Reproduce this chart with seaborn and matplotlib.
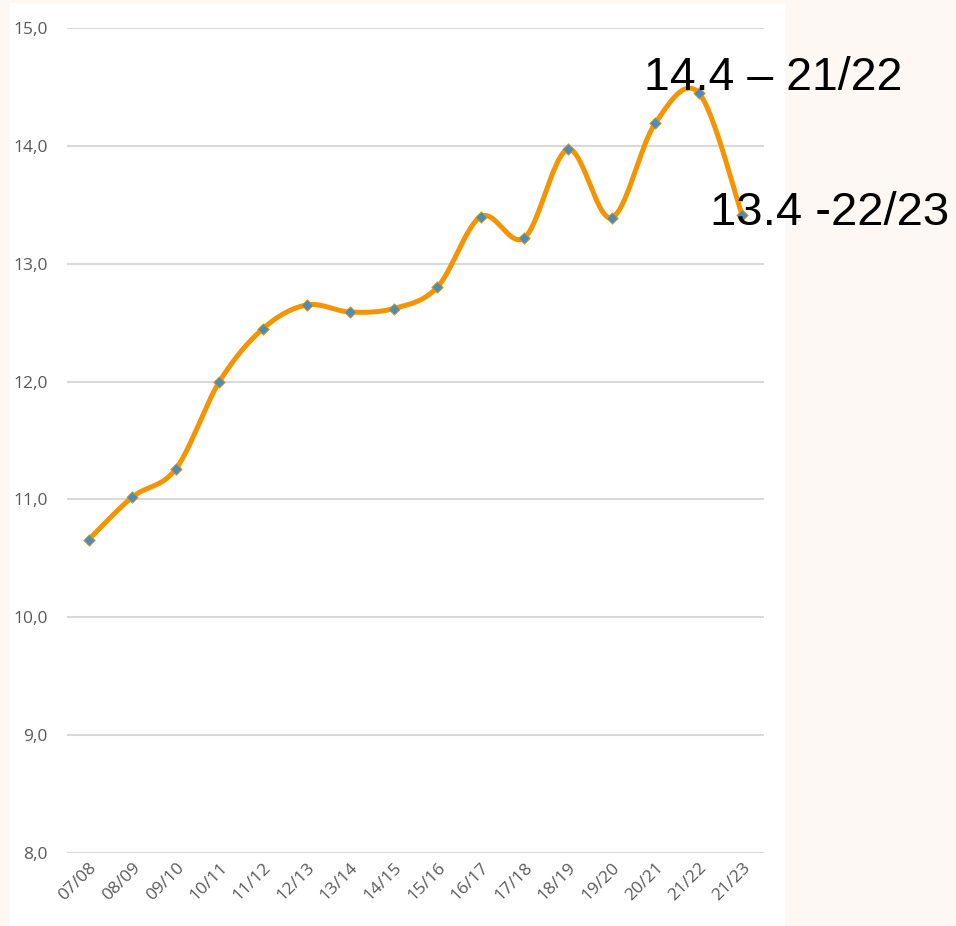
import numpy as np
import pandas as pd
import matplotlib
matplotlib.use("Agg")
import matplotlib.pyplot as plt
import seaborn as sns
from matplotlib.patches import Rectangle

seasons = ["07/08", "08/09", "09/10", "10/11", "11/12", "12/13", "13/14", "14/15",
           "15/16", "16/17", "17/18", "18/19", "19/20", "20/21", "21/22", "21/23"]
values = [10.66, 11.02, 11.26, 12.00, 12.45, 12.65, 12.59, 12.62,
          12.80, 13.40, 13.22, 13.97, 13.39, 14.19, 14.45, 13.41]
y_ticks = [8.0, 9.0, 10.0, 11.0, 12.0, 13.0, 14.0, 15.0]


def smooth_curve(xs, ys, steps=30):
    # excel-like smoothed line (bezier through the points)
    p = np.column_stack([xs, ys]).astype(float)
    pts = []
    n = len(p)
    for i in range(n - 1):
        p0 = p[i - 1] if i > 0 else p[i]
        p3 = p[i + 2] if i + 2 < n else p[i + 1]
        b0 = p[i]
        b3 = p[i + 1]
        b1 = b0 + (b3 - p0) / 6
        b2 = b3 - (p3 - b0) / 6
        t = np.linspace(0, 1, steps)[:, None]
        seg = ((1 - t) ** 3) * b0 + 3 * ((1 - t) ** 2) * t * b1 + 3 * (1 - t) * t ** 2 * b2 + t ** 3 * b3
        pts.append(seg if i == 0 else seg[1:])
    return np.vstack(pts)


sns.set_theme(style="white")
plt.rcParams['font.family'] = ['Open Sans', 'DejaVu Sans']

W, H = 956, 926
fig = plt.figure(figsize=(W / 100, H / 100), dpi=100)
fig.patch.set_facecolor("#FDF8F3")
fig.patches.append(Rectangle((10 / W, 0), 775 / W, 1 - 3 / H, transform=fig.transFigure,
                             facecolor="white", edgecolor="none", zorder=-10))

ax = fig.add_axes([67 / W, 1 - 853 / H, (764 - 67) / W, (853 - 28) / H])
ax.set_facecolor("none")

x = np.arange(len(seasons))
curve = smooth_curve(x, values)
df_curve = pd.DataFrame({"x": curve[:, 0], "y": curve[:, 1]})
df_pts = pd.DataFrame({"x": x, "y": values})

sns.lineplot(data=df_curve, x="x", y="y", sort=False, ax=ax, color="#F39400", linewidth=3.6, zorder=3)
sns.scatterplot(data=df_pts, x="x", y="y", ax=ax, marker="D", s=34, color="#4A8DB7",
                edgecolor="#F39400", linewidth=0.6, zorder=4)

ax.set_xlim(-0.5, 15.5)
ax.set_ylim(8.0, 15.0)
ax.set_yticks(y_ticks)
ax.set_yticklabels([f"{v:.1f}".replace(".", ",") for v in y_ticks], color="#595959", fontsize=12.5)
ax.set_xticks(x)
ax.set_xticklabels(seasons, rotation=45, ha="right", rotation_mode="anchor", color="#595959", fontsize=12.5)
ax.tick_params(axis="y", pad=14, length=0)
ax.tick_params(axis="x", pad=5, length=0)
ax.grid(axis="y", color="#D9D9D9", linewidth=1.5)
ax.grid(axis="x", visible=False)
for s in ax.spines.values():
    s.set_visible(False)
ax.set_xlabel("")
ax.set_ylabel("")

ann_font = ['Liberation Sans', 'DejaVu Sans']
fig.text(644 / W, 1 - 90 / H, "14.4 \u2013 21/22", fontsize=33.5, color="black",
         va="baseline", ha="left", family=ann_font)
fig.text(710 / W, 1 - 225 / H, "13.4 -22/23", fontsize=34, color="black",
         va="baseline", ha="left", family=ann_font)

fig.savefig("out.png", dpi=100)
